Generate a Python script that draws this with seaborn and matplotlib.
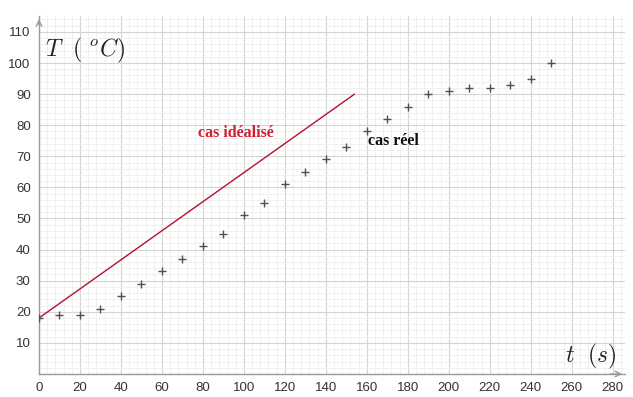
import matplotlib
matplotlib.use("Agg")
import matplotlib.pyplot as plt
import numpy as np
import pandas as pd
import seaborn as sns
from matplotlib.ticker import MultipleLocator

# mesures (cas réel)
temps = [0, 10, 20, 30, 40, 50, 60, 70, 80, 90, 100, 110, 120, 130,
         140, 150, 160, 170, 180, 190, 200, 210, 220, 230, 240, 250]
temperature = [18, 19, 19, 21, 25, 29, 33, 37, 41, 45, 51, 55, 61, 65,
               69, 73, 78, 82, 86, 90, 91, 92, 92, 93, 95, 100]

# droite du cas idéalisé
ideal_t = [0, 154]
ideal_T = [18, 90]

x_ticks = list(range(0, 281, 20))
y_ticks = list(range(10, 111, 10))

mesures_df = pd.DataFrame({"t": temps, "T": temperature})
ideal_df = pd.DataFrame({"t": ideal_t, "T": ideal_T})

sns.set_style("white")
plt.rcParams["font.family"] = ["Liberation Sans", "DejaVu Sans"]
plt.rcParams["mathtext.fontset"] = "cm"

fig = plt.figure(figsize=(6.33, 3.97), dpi=100)
ax = fig.add_axes([0.0616, 0.058, 0.9258, 0.9008])

sns.lineplot(data=ideal_df, x="t", y="T", color="#b3122e", linewidth=1.0, ax=ax)
sns.scatterplot(data=mesures_df, x="t", y="T", marker="+", s=40,
                color="#505050", linewidth=1.0, ax=ax, zorder=3)

ax.set_xlim(0, 286)
ax.set_ylim(0, 115)
ax.set_xticks(x_ticks)
ax.set_yticks(y_ticks)
ax.xaxis.set_minor_locator(MultipleLocator(4))
ax.yaxis.set_minor_locator(MultipleLocator(2))
ax.grid(which="major", color="#d4d4d4", linewidth=0.8)
ax.grid(which="minor", color="#eeeeee", linewidth=0.6)
ax.set_axisbelow(True)
ax.tick_params(which="both", length=0, labelsize=9.5, colors="#333333", pad=6)
ax.set_xlabel("")
ax.set_ylabel("")

for side in ["top", "right"]:
    ax.spines[side].set_visible(False)
for side in ["left", "bottom"]:
    ax.spines[side].set_color("#9a9a9a")
    ax.spines[side].set_linewidth(1.0)

# flèches des axes
ax.annotate("", xy=(1.0, 0), xytext=(0.97, 0), xycoords="axes fraction",
            arrowprops=dict(arrowstyle="->", color="#9a9a9a", lw=1.0))
ax.annotate("", xy=(0, 1.0), xytext=(0, 0.97), xycoords="axes fraction",
            arrowprops=dict(arrowstyle="->", color="#9a9a9a", lw=1.0))

ax.text(3, 104, r"$T\ \ (\ ^oC)$", fontsize=17, ha="left", va="center", color="#222222")
ax.text(282, 5.5, r"$t\ \ (s)$", fontsize=17, ha="right", va="center", color="#222222")

ax.text(96, 77.5, "cas idéalisé", color="#d0202e", fontsize=11.5, fontweight="bold",
        family=["Liberation Serif", "DejaVu Serif"], ha="center", va="center")
ax.text(173, 75, "cas réel", color="#111111", fontsize=11.5, fontweight="bold",
        family=["Liberation Serif", "DejaVu Serif"], ha="center", va="center")

plt.savefig("out.png", dpi=100)
plt.close()
